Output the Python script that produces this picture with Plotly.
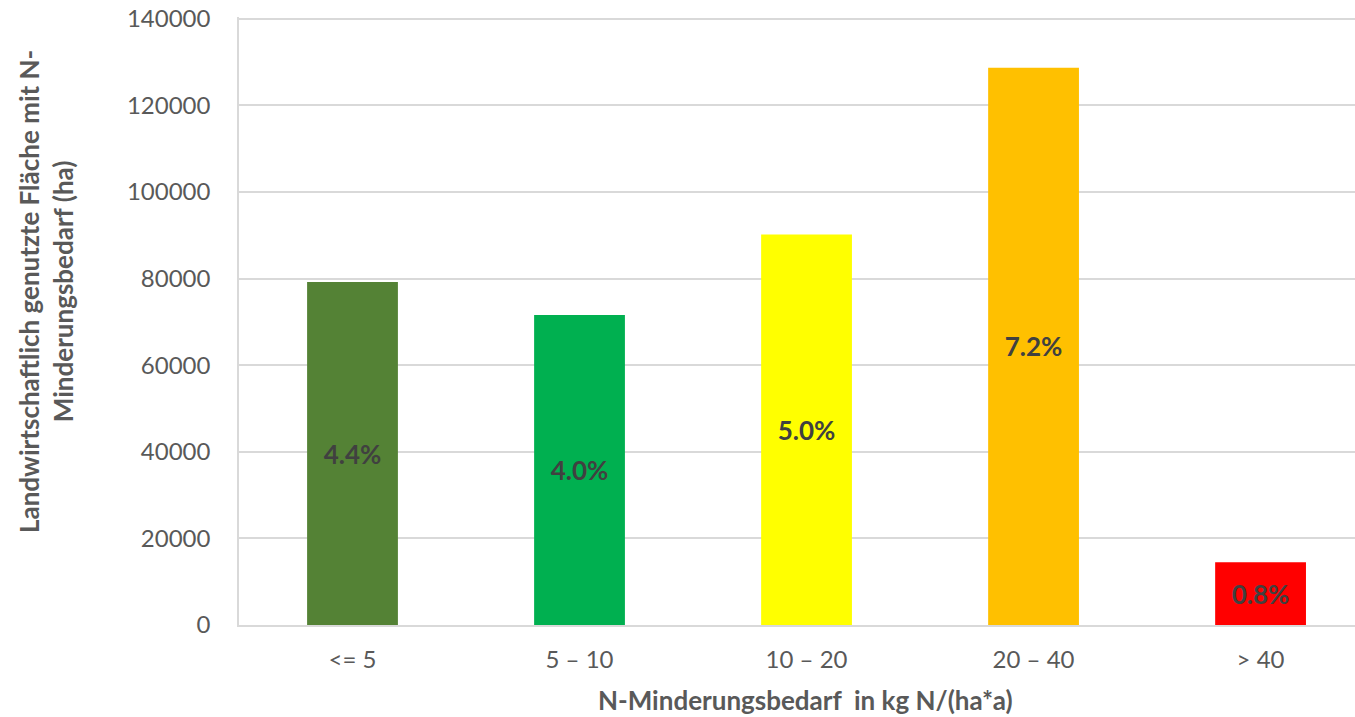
import plotly.graph_objects as go

categories = ["<= 5", "5 – 10", "10 – 20", "20 – 40", "> 40"]
areas = [79200, 71600, 90200, 128700, 14500]
shares = ["4.4%", "4.0%", "5.0%", "7.2%", "0.8%"]
colors = ["#548235", "#00B050", "#FFFF00", "#FFC000", "#FF0000"]
y_ticks = [0, 20000, 40000, 60000, 80000, 100000, 120000, 140000]

# figure placed at the page origin (body margin removed by post_script)
W, H = 1355, 717
YMAX = 140400
px_per_unit = (625 - 19) / 140000
ml, mr = 239, 0
mt = round(19 - (YMAX - 140000) * px_per_unit)
mb = H - 625
FONT = "Lato, 'Open Sans', sans-serif"
GREY = "#595959"

fig = go.Figure(go.Bar(
    x=list(range(len(categories))), y=areas, text=shares,
    marker=dict(color=colors, line=dict(width=0)),
    width=0.4,
    textposition="inside", insidetextanchor="middle",
    textfont=dict(family=FONT, size=26, color="#404040", weight="bold"),
    textangle=0,
))

fig.update_layout(
    width=W, height=H,
    margin=dict(l=ml, r=mr, t=mt, b=mb, pad=0, autoexpand=False),
    plot_bgcolor="white", paper_bgcolor="white",
    showlegend=False,
    font=dict(family=FONT, color=GREY),
    uniformtext=dict(minsize=26, mode="show"),
)
fig.update_xaxes(
    tickmode="array", tickvals=list(range(len(categories))), ticktext=categories,
    range=[-0.5, 4.416],
    showline=True, linecolor="#d9d9d9", linewidth=1.5,
    ticks="", tickfont=dict(size=24, color=GREY, family=FONT),
    ticklabelstandoff=12, automargin=False,
    showgrid=False, zeroline=False,
)
fig.update_yaxes(
    range=[0, YMAX], tickmode="array", tickvals=y_ticks,
    ticktext=[str(v) for v in y_ticks],
    showgrid=True, gridcolor="#d9d9d9", gridwidth=1.5,
    showline=True, linecolor="#d9d9d9", linewidth=1.5,
    ticks="", tickfont=dict(size=24, color=GREY, family=FONT),
    ticklabelstandoff=22, zeroline=False, automargin=False,
    ticklabeloverflow="allow",
)

pw = W - ml - mr
ph = H - mt - mb
fig.add_annotation(
    text="<b>Landwirtschaftlich genutzte Fläche mit N-<br>Minderungsbedarf (ha)</b>",
    xref="paper", yref="paper",
    x=(46 - ml) / pw, y=(H - mb - 292) / ph,
    textangle=-90, showarrow=False, align="center",
    font=dict(size=26, color=GREY, family=FONT),
    xanchor="center", yanchor="middle",
)
fig.add_annotation(
    text="<b>N-Minderungsbedarf  in kg N/(ha*a)</b>",
    xref="paper", yref="paper",
    x=(805 - ml) / pw, y=-(700 - (H - mb)) / ph,
    showarrow=False,
    font=dict(size=26, color=GREY, family=FONT),
    xanchor="center", yanchor="middle",
)

fig.write_html(
    "out.html",
    config={"displayModeBar": False},
    post_script="document.body.style.margin='0';document.body.style.overflow='hidden';",
)
